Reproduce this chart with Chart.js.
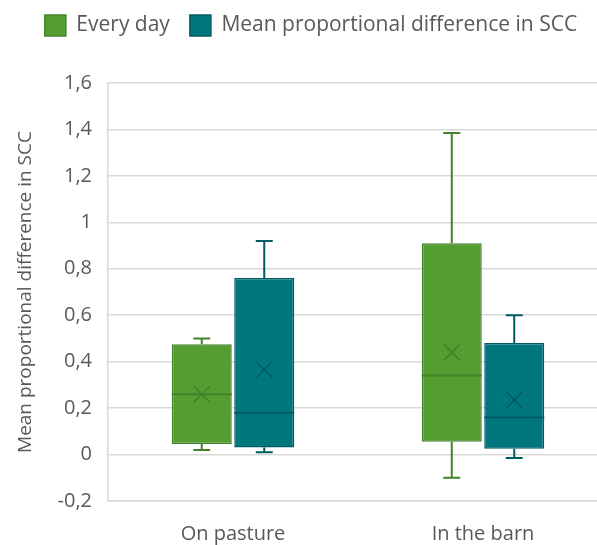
<!DOCTYPE html>
<html>
<head>
<meta charset="utf-8">
<script src="https://cdn.jsdelivr.net/npm/chart.js@4"></script>
<style>
  html, body { margin: 0; padding: 0; background: #fff; overflow: hidden; }
  #wrap { width: 612px; height: 545px; }
</style>
</head>
<body>
<div id="wrap"><canvas id="boxChart" width="612" height="545"></canvas></div>
<script>
// categories and box plot stats
const categories = ["On pasture", "In the barn"];
const seriesNames = ["Every day", "Mean proportional difference in SCC"];

const everyDayMin = [0.02, -0.10];
const everyDayQ1 = [0.045, 0.055];
const everyDayMedian = [0.26, 0.34];
const everyDayQ3 = [0.475, 0.91];
const everyDayMax = [0.50, 1.385];
const everyDayMean = [0.26, 0.44];

const sccMin = [0.01, -0.015];
const sccQ1 = [0.03, 0.025];
const sccMedian = [0.18, 0.16];
const sccQ3 = [0.76, 0.48];
const sccMax = [0.92, 0.60];
const sccMean = [0.365, 0.235];

const yTickValues = [-0.2, 0, 0.2, 0.4, 0.6, 0.8, 1, 1.2, 1.4, 1.6];

const green = "#549d31";
const greenDark = "#43822a";
const teal = "#00767d";
const tealDark = "#005c62";

const stats = [
    { min: everyDayMin, median: everyDayMedian, max: everyDayMax, mean: everyDayMean, line: greenDark },
    { min: sccMin, median: sccMedian, max: sccMax, mean: sccMean, line: tealDark },
];

// whiskers, medians and mean markers drawn on top of the floating bars
const boxExtras = {
    id: "boxExtras",
    afterDatasetsDraw(chart) {
        const ctx = chart.ctx;
        const y = chart.scales.y;
        stats.forEach(function (s, di) {
            const meta = chart.getDatasetMeta(di);
            meta.data.forEach(function (bar, i) {
                const half = bar.width / 2;
                const top = Math.min(bar.y, bar.base);
                const bottom = Math.max(bar.y, bar.base);
                const yMax = y.getPixelForValue(s.max[i]);
                const yMin = y.getPixelForValue(s.min[i]);
                const yMed = y.getPixelForValue(s.median[i]);
                const yMean = y.getPixelForValue(s.mean[i]);
                ctx.save();
                ctx.strokeStyle = s.line;
                ctx.lineWidth = 2;
                ctx.beginPath();
                ctx.moveTo(bar.x, top);
                ctx.lineTo(bar.x, yMax);
                ctx.moveTo(bar.x - 8.5, yMax);
                ctx.lineTo(bar.x + 8.5, yMax);
                ctx.moveTo(bar.x, bottom);
                ctx.lineTo(bar.x, yMin);
                ctx.moveTo(bar.x - 8.5, yMin);
                ctx.lineTo(bar.x + 8.5, yMin);
                ctx.moveTo(bar.x - half, yMed);
                ctx.lineTo(bar.x + half, yMed);
                ctx.stroke();
                ctx.lineWidth = 1.5;
                ctx.beginPath();
                ctx.moveTo(bar.x - 8, yMean - 8);
                ctx.lineTo(bar.x + 8, yMean + 8);
                ctx.moveTo(bar.x + 8, yMean - 8);
                ctx.lineTo(bar.x - 8, yMean + 8);
                ctx.stroke();
                ctx.restore();
            });
        });
    },
};

// extra room between the legend and the plot
const legendGap = {
    id: "legendGap",
    beforeInit(chart) {
        const fit = chart.legend.fit;
        chart.legend.fit = function () {
            fit.bind(chart.legend)();
            this.height += 37;
        };
    },
};

const ctx = document.getElementById("boxChart").getContext("2d");

new Chart(ctx, {
    type: "bar",
    data: {
        labels: categories,
        datasets: [
            {
                label: seriesNames[0],
                data: everyDayQ1.map((q, i) => [q, everyDayQ3[i]]),
                backgroundColor: green,
                borderColor: greenDark,
                borderWidth: 1.5,
                borderSkipped: false,
            },
            {
                label: seriesNames[1],
                data: sccQ1.map((q, i) => [q, sccQ3[i]]),
                backgroundColor: teal,
                borderColor: tealDark,
                borderWidth: 1.5,
                borderSkipped: false,
            },
        ],
    },
    options: {
        responsive: false,
        animation: false,
        devicePixelRatio: 1,
        categoryPercentage: 0.5,
        barPercentage: 0.96,
        layout: { padding: { top: -5, right: 4, left: 14, bottom: 0 } },
        plugins: {
            tooltip: { enabled: false },
            legend: {
                display: true,
                position: "top",
                labels: {
                    boxWidth: 21,
                    boxHeight: 21,
                    padding: 20,
                    color: "#595959",
                    font: { family: "Open Sans", size: 21 },
                },
            },
        },
        scales: {
            x: {
                grid: { display: false },
                border: { display: true, color: "#d9d9d9", width: 1.5 },
                ticks: {
                    color: "#595959",
                    padding: 13,
                    font: { family: "Open Sans", size: 20 },
                },
                afterFit(scale) { scale.height = 44; },
            },
            y: {
                min: -0.2,
                max: 1.6,
                afterBuildTicks(scale) {
                    scale.ticks = yTickValues.map((v) => ({ value: v }));
                },
                grid: { color: "#d9d9d9", lineWidth: 1.5, drawTicks: false },
                border: { display: true, color: "#d9d9d9", width: 1.5 },
                ticks: {
                    color: "#595959",
                    padding: 16,
                    font: { family: "Open Sans", size: 20 },
                    callback: (v) => String(Number(v.toFixed(1))).replace(".", ","),
                },
                title: {
                    display: true,
                    text: "Mean proportional difference in SCC",
                    color: "#595959",
                    font: { family: "Open Sans", size: 19 },
                    padding: { top: 0, bottom: 6 },
                },
                afterFit(scale) { scale.width = 94; },
            },
        },
    },
    plugins: [boxExtras, legendGap],
});
</script>
</body>
</html>
